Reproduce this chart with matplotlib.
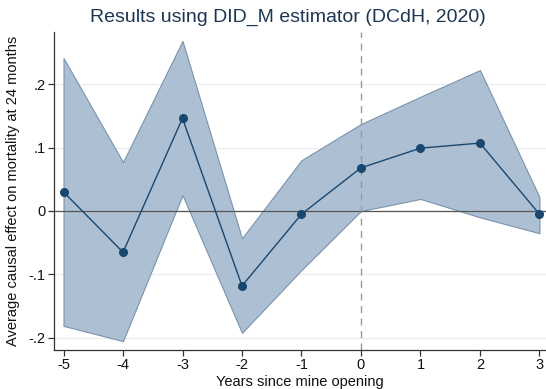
import matplotlib
matplotlib.use("Agg")
import matplotlib.pyplot as plt

plt.rcParams["font.family"] = ["Liberation Sans", "DejaVu Sans"]

years = [-5, -4, -3, -2, -1, 0, 1, 2, 3]
effect = [0.030, -0.065, 0.146, -0.118, -0.005, 0.068, 0.099, 0.107, -0.005]
upper = [0.241, 0.077, 0.268, -0.043, 0.080, 0.137, 0.180, 0.222, 0.022]
lower = [-0.181, -0.205, 0.025, -0.192, -0.093, 0.000, 0.019, -0.010, -0.035]
yticks = [-0.2, -0.1, 0.0, 0.1, 0.2]
ytick_labels = ["-.2", "-.1", "0", ".1", ".2"]

navy = "#1a476f"
fig = plt.figure(figsize=(5.46, 3.89), dpi=100)
ax = fig.add_axes([54/546, 1-350/389, 1-54/546, 318/389])

for y in yticks:
    ax.axhline(y, color="#e6ecf0", lw=0.8, zorder=0)
ax.fill_between(years, lower, upper, facecolor="#adc0d3", edgecolor="#7a93ad", lw=0.8, zorder=1)
ax.axhline(0, color="#555555", lw=0.9, zorder=2)
ax.axvline(0, color="#999999", lw=1.0, ls=(0, (5, 4)), zorder=2)
ax.plot(years, effect, color=navy, lw=1.0, marker="o", ms=5.5, zorder=3)

ax.set_xlim(-5.16, 3.11)
ax.set_ylim(-0.219, 0.282)
ax.set_xticks(years)
ax.set_xticklabels([str(v) for v in years])
ax.set_yticks(yticks)
ax.set_yticklabels(ytick_labels)
for s in ["top", "right"]:
    ax.spines[s].set_visible(False)
for s in ["left", "bottom"]:
    ax.spines[s].set_color("#333333")
    ax.spines[s].set_linewidth(0.9)
ax.tick_params(axis="both", direction="out", length=4, width=0.9, color="#333333",
               labelsize=10.5, labelcolor="#111111", pad=2)
ax.set_xlabel("Years since mine opening", fontsize=10.5, color="#111111", labelpad=2)
ax.set_ylabel("Average causal effect on mortality at 24 months", fontsize=10.5, color="#111111", labelpad=6)
fig.text(0.528, 0.954, "Results using DID_M estimator (DCdH, 2020)", ha="center", va="center",
         fontsize=14, color="#1e3552")
fig.savefig("out.png", dpi=100, facecolor="white")
